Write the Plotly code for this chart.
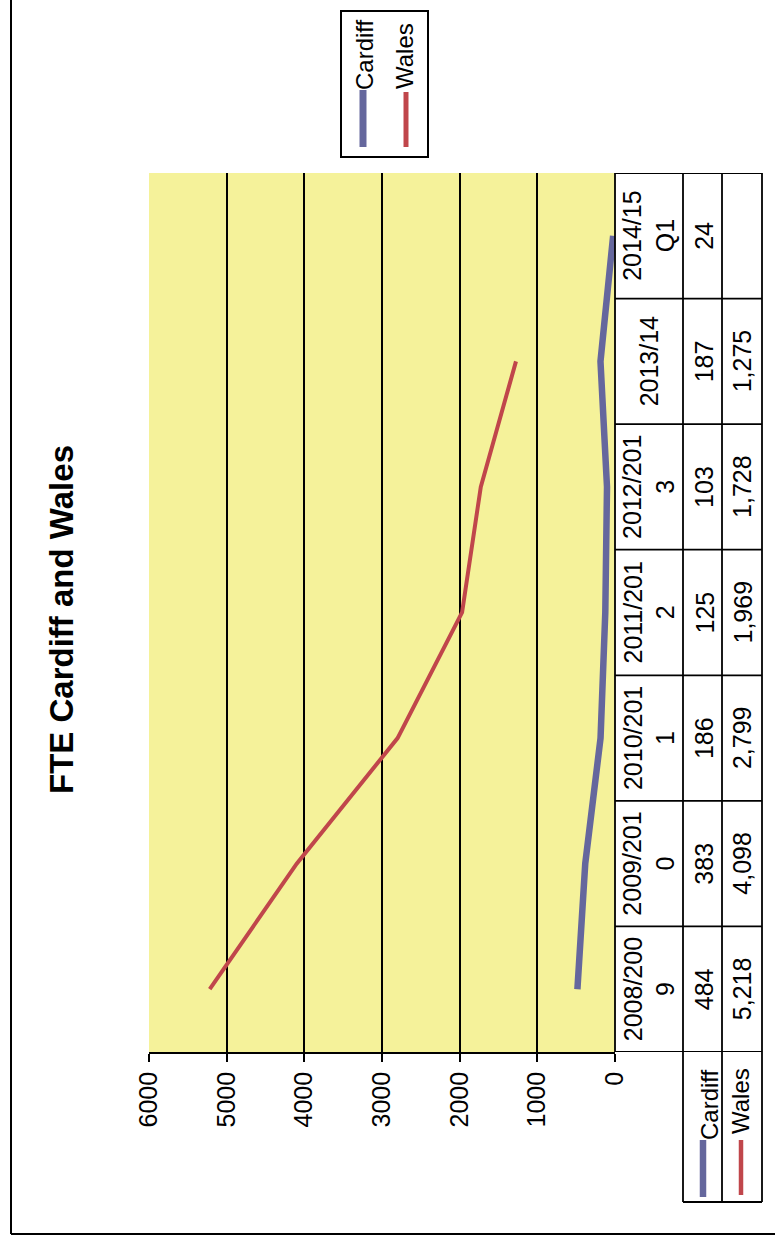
import plotly.graph_objects as go

# ---- data ----
categories = ["2008/200<br>9", "2009/201<br>0", "2010/201<br>1", "2011/201<br>2",
              "2012/201<br>3", "2013/14", "2014/15<br>Q1"]
cardiff = [484, 383, 186, 125, 103, 187, 24]
wales = [5218, 4098, 2799, 1969, 1728, 1275, None]
value_ticks = [0, 1000, 2000, 3000, 4000, 5000, 6000]
series_names = ["Cardiff", "Wales"]
title_text = "FTE Cardiff and Wales"

# ---- styling ----
FONT = "Liberation Sans, Arial, sans-serif"
COL_CARDIFF = "#65679D"
COL_WALES = "#C0464B"
BG_YELLOW = "#F5F29A"
W, H = 775, 1236
# plot-area pixel box
L, R, T, B = 149, 615, 173, 1052


def px(x):
    return (x - L) / (R - L)


def py(y):
    return (B - y) / (B - T)


fig = go.Figure()
fig.add_trace(go.Scatter(x=cardiff, y=categories, mode="lines", name=series_names[0],
                         line=dict(color=COL_CARDIFF, width=6.5), showlegend=False))
fig.add_trace(go.Scatter(x=wales, y=categories, mode="lines", name=series_names[1],
                         line=dict(color=COL_WALES, width=4), showlegend=False))

shapes = []


def hline(y0, x0, x1, yref="paper", width=1.8):
    shapes.append(dict(type="line", xref="paper", yref=yref, x0=px(x0), x1=px(x1),
                       y0=y0, y1=y0, line=dict(color="black", width=width), layer="above"))


def vline(x, y0, y1, width=1.8, color="black"):
    shapes.append(dict(type="line", xref="paper", yref="paper", x0=px(x), x1=px(x),
                       y0=py(y0), y1=py(y1), line=dict(color=color, width=width), layer="above"))


# outer frame
vline(11, -5, 1234, width=2)
hline(py(1234), 11, 790, width=2)

# data table grid
vline(615, 173, 1052)
for xx in (683, 722, 762):
    vline(xx, 173, 1202)
for k in range(len(categories) + 1):
    hline(k - 0.5, 615, 762, yref="y")
hline(py(1202), 683, 762)

# legend box
shapes.append(dict(type="rect", xref="paper", yref="paper", x0=px(341), x1=px(428),
                   y0=py(157), y1=py(11), line=dict(color="black", width=2), layer="above"))
vline(363, 90, 147, width=7, color=COL_CARDIFF)
vline(406, 92, 147, width=5, color=COL_WALES)
# legend keys inside the table
vline(703, 1140, 1197, width=6.5, color=COL_CARDIFF)
vline(741, 1140, 1195, width=4.5, color=COL_WALES)

ann = []


def text(x, y, s, size=24, yref="paper", bold=False):
    ann.append(dict(x=px(x), y=y, xref="paper", yref=yref, text=f"<b>{s}</b>" if bold else s,
                    showarrow=False, textangle=-90, xanchor="center", yanchor="middle",
                    font=dict(family=FONT, size=size, color="black")))


text(61, py(620), title_text, size=33, bold=True)
text(364, py(55), series_names[0], size=24)
text(404, py(56), series_names[1], size=24)
text(709, py(1105), series_names[0], size=24)
text(740, py(1101), series_names[1], size=24)

for cat, c, w in zip(categories, cardiff, wales):
    text(649, cat, cat, size=25, yref="y")
    text(704, cat, f"{c:,}", size=25, yref="y")
    if w is not None:
        text(742, cat, f"{w:,}", size=25, yref="y")

fig.update_layout(
    width=W, height=H, autosize=False,
    margin=dict(l=L, r=W - R, t=T, b=H - B, pad=0),
    paper_bgcolor="white", plot_bgcolor=BG_YELLOW,
    shapes=shapes, annotations=ann,
    font=dict(family=FONT, color="black"),
    xaxis=dict(range=[6000, 0], tickvals=value_ticks, ticktext=[str(v) for v in value_ticks],
               showgrid=True, gridcolor="black", gridwidth=1.5, zeroline=False,
               showline=True, linecolor="black", linewidth=1.8,
               ticks="outside", ticklen=8, tickwidth=1.5, tickcolor="black",
               tickangle=-90, tickfont=dict(family=FONT, size=25, color="black")),
    yaxis=dict(type="category", categoryorder="array", categoryarray=categories,
               range=[-0.5, len(categories) - 0.5], showticklabels=False, showgrid=False,
               zeroline=False, showline=False, ticks=""),
)

fig.write_html("out.html")
